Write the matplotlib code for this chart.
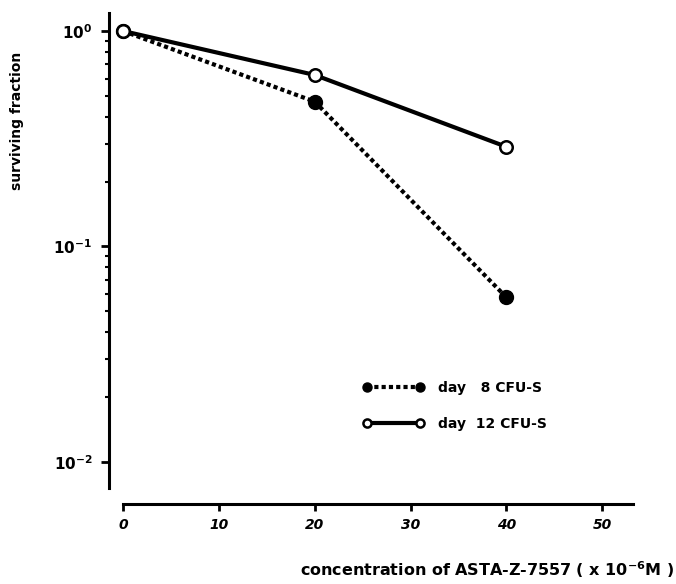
import numpy as np
import matplotlib
matplotlib.use("Agg")
import matplotlib.pyplot as plt
from matplotlib.ticker import FixedLocator, NullFormatter

# drug concentration (x 10^-6 M) and surviving fraction of colony-forming units
conc = [0, 20, 40]
day8 = [1.0, 0.47, 0.058]
day12 = [1.0, 0.625, 0.29]

plt.rcParams['font.family'] = ['DejaVu Sans']
plt.rcParams['font.weight'] = 'bold'

fig = plt.figure(figsize=(6.76, 5.84), dpi=100)
ax = fig.add_axes([109 / 676, 80 / 584, 524 / 676, 491 / 584])

ax.set_yscale('log')
ax.set_xlim(-1.46, 53.2)
ax.set_ylim(0.00638, 1.212)

ax.plot(conc, day8, color='black', lw=3, linestyle=(0, (1, 0.75)),
        dash_capstyle='butt', marker='o', ms=10, mfc='black', mec='black',
        label='day   8 CFU-S', zorder=3)
ax.plot(conc, day12, color='black', lw=3, linestyle='-',
        marker='o', ms=9, mfc='white', mec='black', mew=1.8,
        label='day  12 CFU-S', zorder=4)

# detached axes: spines stop short of each other
for s in ['top', 'right']:
    ax.spines[s].set_visible(False)
ax.spines['left'].set_linewidth(2.2)
ax.spines['bottom'].set_linewidth(2.2)
ax.spines['left'].set_bounds(0.00757, 1.212)
ax.spines['bottom'].set_bounds(0, 53.2)

ax.xaxis.set_major_locator(FixedLocator([0, 10, 20, 30, 40, 50]))
ax.set_xticklabels(['0', '10', '20', '30', '40', '50'],
                   fontstyle='italic', fontweight='bold', fontsize=10)
ax.tick_params(axis='x', direction='out', length=5, width=2, pad=5)

ax.yaxis.set_major_locator(FixedLocator([0.01, 0.1, 1.0]))
ax.set_yticklabels([r'$\mathbf{10^{-2}}$', r'$\mathbf{10^{-1}}$', r'$\mathbf{10^{0}}$'],
                   fontsize=11)
minors = [m * d for d in (0.01, 0.1) for m in range(2, 10)]
ax.yaxis.set_minor_locator(FixedLocator(minors))
ax.yaxis.set_minor_formatter(NullFormatter())
ax.tick_params(axis='y', which='major', direction='out', length=6, width=2, pad=6)
ax.tick_params(axis='y', which='minor', direction='out', length=3, width=1.5)

leg = ax.legend(loc='center left', bbox_to_anchor=(0.485, 0.2), frameon=False,
                numpoints=2, markerscale=0.65, handlelength=4.4,
                handletextpad=1.0, labelspacing=1.6, borderpad=0,
                borderaxespad=0, prop={'weight': 'bold', 'size': 10})

fig.text(17 / 676, 1 - 121 / 584, 'surviving fraction', rotation=90,
         ha='center', va='center', fontsize=10, fontweight='bold')
fig.text(674 / 676, 1 - 570 / 584,
         r'concentration of ASTA-Z-7557 ( x 10$^{\mathbf{-6}}$M )',
         ha='right', va='center', fontsize=11.5, fontweight='bold')

fig.savefig('out.png', dpi=100)
